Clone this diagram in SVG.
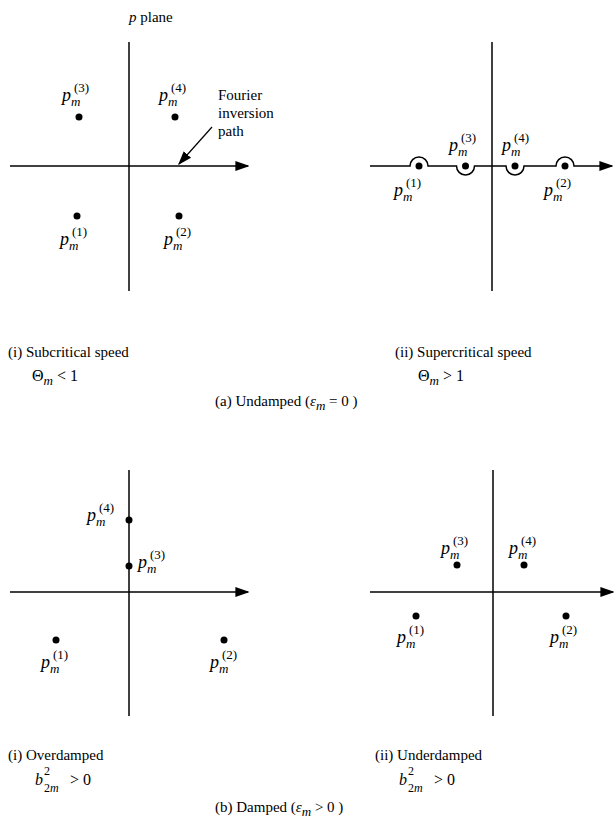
<svg xmlns="http://www.w3.org/2000/svg" width="614" height="828" viewBox="0 0 614 828">
<style>
text{font-family:"Liberation Serif","Times New Roman",serif;fill:#000}
.cap{font-size:15px}
.it{font-style:italic}
.p{font-size:18px;font-style:italic}
.sub{font-size:13px;font-style:italic}
.sup{font-size:13px}
.bs{font-size:12px}
.ax{stroke:#000;stroke-width:1.5;fill:none}
.dot{fill:#000}
</style>
<defs>
<marker id="ah2" viewBox="0 0 10 10" refX="9" refY="5" markerWidth="14" markerHeight="14" orient="auto" markerUnits="userSpaceOnUse">
<path d="M0,1.5 L10,5 L0,8.5 Z" fill="#000"/>
</marker>
</defs>

<g id="connectors">
<line class="ax" x1="129" y1="42" x2="129" y2="291"/>
<line class="ax" x1="10" y1="166" x2="248" y2="166" marker-end="url(#ah2)"/>
<line class="ax" x1="212" y1="127" x2="179" y2="164" marker-end="url(#ah2)" style="stroke-width:1.2"/>
<line class="ax" x1="492" y1="42" x2="492" y2="291"/>
<path class="ax" d="M370,166 H410 A9,9 0 0 1 428,166 H456.5 A9,9 0 0 0 474.5,166 H506 A9,9 0 0 0 524,166 H556 A9,9 0 0 1 574,166 H612" marker-end="url(#ah2)"/>
<line class="ax" x1="129" y1="470" x2="129" y2="716"/>
<line class="ax" x1="10" y1="592" x2="248" y2="592" marker-end="url(#ah2)"/>
<line class="ax" x1="493" y1="470" x2="493" y2="716"/>
<line class="ax" x1="370" y1="592" x2="613" y2="592" marker-end="url(#ah2)"/>
</g>

<g id="a-i">
<text x="129" y="22" class="cap"><tspan class="it">p</tspan> plane</text>
<g id="a1-p3"><circle class="dot" cx="79" cy="117" r="3.5"/><text x="62" y="101" class="p">p</text><text x="71" y="106" class="sub">m</text><text x="74" y="92" class="sup">(3)</text></g>
<g id="a1-p4"><circle class="dot" cx="175" cy="117" r="3.5"/><text x="159" y="101" class="p">p</text><text x="168" y="106" class="sub">m</text><text x="171" y="92" class="sup">(4)</text></g>
<g id="a1-p1"><circle class="dot" cx="77" cy="216" r="3.5"/><text x="60" y="245" class="p">p</text><text x="69" y="250" class="sub">m</text><text x="72" y="236" class="sup">(1)</text></g>
<g id="a1-p2"><circle class="dot" cx="179" cy="216" r="3.5"/><text x="164" y="245" class="p">p</text><text x="173" y="250" class="sub">m</text><text x="176" y="236" class="sup">(2)</text></g>
<g id="a1-fourier"><text x="218" y="100" class="cap">Fourier</text><text x="218" y="118" class="cap">inversion</text><text x="218" y="136" class="cap">path</text></g>
<text x="8" y="357" class="cap">(i) Subcritical speed</text>
<text x="32" y="381" class="cap" style="font-size:16px">Θ<tspan class="sub" dy="4">m</tspan><tspan dy="-4"> &lt; 1</tspan></text>
</g>

<g id="a-ii">
<g id="a2-p1"><circle class="dot" cx="419" cy="166" r="3.5"/><text x="394" y="196" class="p">p</text><text x="403" y="201" class="sub">m</text><text x="406" y="187" class="sup">(1)</text></g>
<g id="a2-p3"><circle class="dot" cx="465.5" cy="166" r="3.5"/><text x="449" y="151" class="p">p</text><text x="458" y="156" class="sub">m</text><text x="461" y="142" class="sup">(3)</text></g>
<g id="a2-p4"><circle class="dot" cx="515" cy="166" r="3.5"/><text x="502" y="151" class="p">p</text><text x="511" y="156" class="sub">m</text><text x="514" y="142" class="sup">(4)</text></g>
<g id="a2-p2"><circle class="dot" cx="565" cy="166" r="3.5"/><text x="544" y="196" class="p">p</text><text x="553" y="201" class="sub">m</text><text x="556" y="187" class="sup">(2)</text></g>
<text x="395" y="357" class="cap">(ii) Supercritical speed</text>
<text x="418" y="381" class="cap" style="font-size:16px">Θ<tspan class="sub" dy="4">m</tspan><tspan dy="-4"> &gt; 1</tspan></text>
</g>

<text id="cap-a" x="215" y="406" class="cap">(a) Undamped (<tspan class="it">ε</tspan><tspan class="sub" dy="4">m</tspan><tspan dy="-4"> = 0 )</tspan></text>

<g id="b-i">
<g id="b1-p4"><circle class="dot" cx="129" cy="520" r="3.5"/><text x="87" y="521" class="p">p</text><text x="96" y="526" class="sub">m</text><text x="99" y="512" class="sup">(4)</text></g>
<g id="b1-p3"><circle class="dot" cx="129" cy="566" r="3.5"/><text x="138" y="568" class="p">p</text><text x="147" y="573" class="sub">m</text><text x="150" y="559" class="sup">(3)</text></g>
<g id="b1-p1"><circle class="dot" cx="56" cy="640" r="3.5"/><text x="41" y="668" class="p">p</text><text x="50" y="673" class="sub">m</text><text x="53" y="659" class="sup">(1)</text></g>
<g id="b1-p2"><circle class="dot" cx="224" cy="640" r="3.5"/><text x="210" y="668" class="p">p</text><text x="219" y="673" class="sub">m</text><text x="222" y="659" class="sup">(2)</text></g>
<text x="8" y="760" class="cap">(i) Overdamped</text>
<text x="35" y="785" class="cap" style="font-size:16px"><tspan class="it">b</tspan></text>
<text x="44" y="775" class="bs">2</text><text x="44" y="792" class="bs">2<tspan class="it">m</tspan></text>
<text x="70" y="785" class="cap" style="font-size:16px">&gt; 0</text>
</g>

<g id="b-ii">
<g id="b2-p3"><circle class="dot" cx="457" cy="565" r="3.5"/><text x="441" y="554" class="p">p</text><text x="450" y="559" class="sub">m</text><text x="453" y="545" class="sup">(3)</text></g>
<g id="b2-p4"><circle class="dot" cx="524" cy="565" r="3.5"/><text x="509" y="554" class="p">p</text><text x="518" y="559" class="sub">m</text><text x="521" y="545" class="sup">(4)</text></g>
<g id="b2-p1"><circle class="dot" cx="416" cy="616" r="3.5"/><text x="397" y="643" class="p">p</text><text x="406" y="648" class="sub">m</text><text x="409" y="634" class="sup">(1)</text></g>
<g id="b2-p2"><circle class="dot" cx="566" cy="616" r="3.5"/><text x="550" y="643" class="p">p</text><text x="559" y="648" class="sub">m</text><text x="562" y="634" class="sup">(2)</text></g>
<text x="375" y="760" class="cap">(ii) Underdamped</text>
<text x="399" y="785" class="cap" style="font-size:16px"><tspan class="it">b</tspan></text>
<text x="408" y="775" class="bs">2</text><text x="408" y="792" class="bs">2<tspan class="it">m</tspan></text>
<text x="434" y="785" class="cap" style="font-size:16px">&gt; 0</text>
</g>

<text id="cap-b" x="215" y="812" class="cap">(b) Damped (<tspan class="it">ε</tspan><tspan class="sub" dy="4">m</tspan><tspan dy="-4"> &gt; 0 )</tspan></text>
</svg>
